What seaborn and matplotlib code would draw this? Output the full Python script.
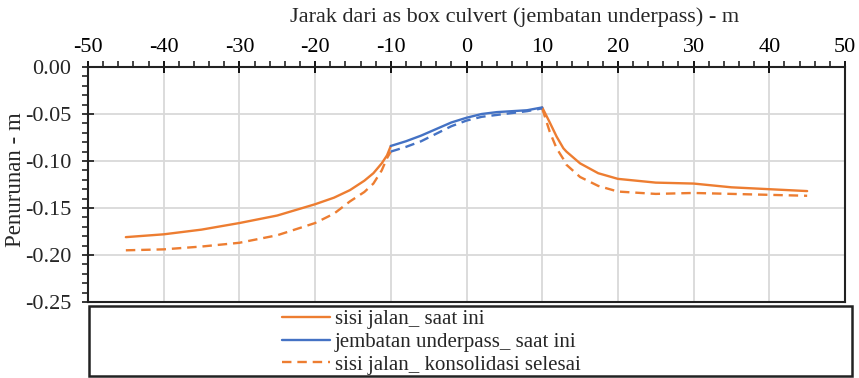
import numpy as np
import pandas as pd
import matplotlib
matplotlib.use("Agg")
import matplotlib.pyplot as plt
from matplotlib.patches import Rectangle
from matplotlib.ticker import MultipleLocator, FormatStrFormatter
import seaborn as sns

# Settlement profiles along the road, distance from box culvert axis (m)
x_left = [-45, -40, -35, -30, -25, -20, -17.5, -15.4, -13.5, -12.3, -11.2, -10.5, -10]
road_now_left = [-0.181, -0.178, -0.173, -0.166, -0.158, -0.146, -0.139, -0.131,
                 -0.121, -0.113, -0.1025, -0.094, -0.084]
road_final_left = [-0.195, -0.194, -0.191, -0.187, -0.179, -0.166, -0.156, -0.143,
                   -0.133, -0.124, -0.110, -0.097, -0.090]

x_bridge = [-10, -8, -6, -4, -2, 0, 2, 4, 6, 8, 10]
bridge_now = [-0.084, -0.079, -0.073, -0.066, -0.059, -0.054, -0.050, -0.048,
              -0.047, -0.046, -0.043]
bridge_final = [-0.090, -0.085, -0.079, -0.071, -0.063, -0.057, -0.053, -0.051,
                -0.049, -0.047, -0.044]

x_right = [10, 11, 11.9, 12.8, 13.2, 15, 17.4, 20, 25, 30, 35, 40, 45]
road_now_right = [-0.043, -0.059, -0.074, -0.0865, -0.090, -0.1025, -0.113, -0.119,
                  -0.123, -0.124, -0.128, -0.130, -0.132]
road_final_right = [-0.044, -0.069, -0.0865, -0.098, -0.104, -0.117, -0.1265, -0.1325,
                    -0.135, -0.134, -0.135, -0.136, -0.137]

x_ticks = list(range(-50, 51, 10))
y_ticks = [0.00, -0.05, -0.10, -0.15, -0.20, -0.25]

labels = ["sisi jalan_ saat ini", "jembatan underpass_ saat ini",
          "sisi jalan_ konsolidasi selesai"]

ORANGE = "#ED7D31"
BLUE = "#4472C4"

sns.set_style("white")
plt.rcParams["font.family"] = ["Liberation Serif", "DejaVu Serif"]
plt.rcParams["axes.unicode_minus"] = False

fig = plt.figure(figsize=(8.59, 3.78), dpi=100)
ax = fig.add_axes([88 / 859, 1 - 302 / 378, (845 - 88) / 859, (302 - 67) / 378])

def seg(xs, ys):
    return pd.DataFrame({"x": xs, "y": ys})

lw = 1.7
dash = (4, 2.5)
sns.lineplot(data=seg(x_left, road_now_left), x="x", y="y", ax=ax, color=ORANGE,
             lw=lw, label=labels[0])
sns.lineplot(data=seg(x_right, road_now_right), x="x", y="y", ax=ax, color=ORANGE,
             lw=lw)
sns.lineplot(data=seg(x_bridge, bridge_now), x="x", y="y", ax=ax, color=BLUE,
             lw=lw, label=labels[1])
sns.lineplot(data=seg(x_left, road_final_left), x="x", y="y", ax=ax,
             color=ORANGE, lw=lw, label=labels[2])
sns.lineplot(data=seg(x_right, road_final_right), x="x", y="y", ax=ax, color=ORANGE,
             lw=lw)
sns.lineplot(data=seg(x_bridge, bridge_final), x="x", y="y", ax=ax, color=BLUE,
             lw=lw)
for i in (3, 4, 5):
    ax.lines[i].set_dashes(dash)

ax.set_xlim(-50, 50)
ax.set_ylim(-0.25, 0.0)
ax.set_xticks(x_ticks)
ax.set_yticks(y_ticks)
ax.yaxis.set_major_formatter(FormatStrFormatter("%.2f"))
ax.xaxis.set_minor_locator(MultipleLocator(2))
ax.yaxis.set_minor_locator(MultipleLocator(0.01))
ax.xaxis.tick_top()
ax.tick_params(axis="x", which="major", top=True, bottom=False, direction="inout",
               length=9, width=1.3, labelsize=16, pad=3, colors="black")
ax.tick_params(axis="x", which="minor", top=True, bottom=False, direction="out",
               length=4, width=1.2)
ax.tick_params(axis="y", which="major", left=True, direction="inout",
               length=9, width=1.3, labelsize=16, pad=7.5)
ax.tick_params(axis="y", which="minor", left=True, direction="out",
               length=4, width=1.2)
for t in ax.get_yticklabels():
    t.set_bbox(dict(facecolor="white", edgecolor="none", pad=0))
ax.grid(True, which="major", color="#d9d9d9", lw=1.3)
ax.set_axisbelow(True)
for s in ax.spines.values():
    s.set_color("#222222")
    s.set_linewidth(1.5)

ax.set_xlabel("")
ax.set_ylabel("")
ax.get_legend().remove()

fig.text(515 / 859, 1 - 17 / 378, "Jarak dari as box culvert (jembatan underpass) - m",
         ha="center", va="center", fontsize=16)
fig.text(16 / 859, 1 - 180 / 378, "Penurunan - m", rotation=90, ha="center",
         va="center", fontsize=16.5, zorder=-1)

# Legend panel below the plot
fig.patches.append(Rectangle((89 / 859, 1 - 376 / 378), (852 - 89) / 859,
                             (376 - 306) / 378, transform=fig.transFigure,
                             fill=False, edgecolor="#222222", lw=1.8))
handles = [ax.lines[0], ax.lines[2], ax.lines[3]]
fig.legend(handles, labels, loc="upper left",
           bbox_to_anchor=(267 / 859, 1 - 295 / 378), frameon=False,
           fontsize=15, handlelength=2.3, handletextpad=0.25,
           labelspacing=0.15, borderpad=0.2)

fig.savefig("out.png", dpi=100)
